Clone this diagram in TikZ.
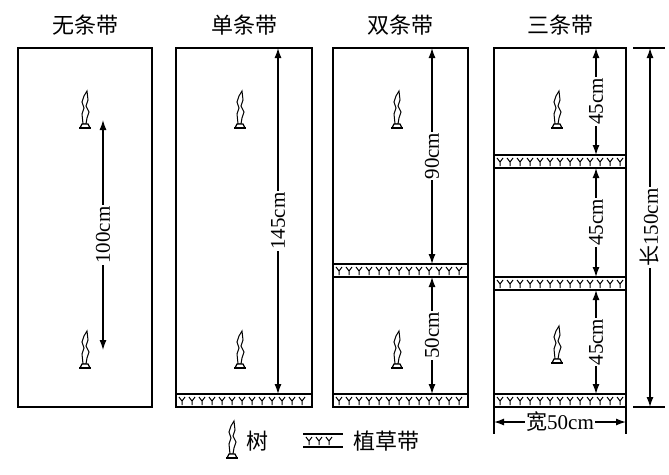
\documentclass[tikz,border=0pt]{standalone}
\usepackage{fontspec}
\setmainfont{Liberation Serif}
\newfontfamily\cjk{Noto Sans CJK SC}
\usetikzlibrary{positioning,arrows.meta}
\tikzset{
  box/.style={line width=1.6pt},
  dim/.style={{Latex[length=10pt,width=7pt]}-{Latex[length=10pt,width=7pt]}, line width=1.3pt},
  dimlabel/.style={fill=white, inner sep=1pt, rotate=90, font=\fontsize{21}{21}\selectfont},
  title/.style={font=\cjk\fontsize{22}{22}\selectfont},
  pics/tree/.style={code={
    \draw[line width=1pt] (-2,14) -- (-3,4) -- (-1,-2) -- (-3,-8) -- (-1,-14) -- (2,-19) -- (3,-10) -- (1,-4) -- (4,2) -- (2,8) -- (1,14) -- cycle;
    \draw[line width=1.2pt, fill=white] (-5,18) -- (-3,14) -- (3,14) -- (5,18) -- cycle;
    \fill (-6,17) rectangle (6,19);
  }},
  pics/grass/.style={code={
    \draw[line width=1.4pt] (0,0) -- (#1,0) (0,13) -- (#1,13);
    \pgfmathtruncatemacro\grassend{#1-6}
    \foreach \i in {6,16,...,\grassend} {
      \draw[line width=1pt] (\i-3,3) -- (\i,7) -- (\i+3,3) (\i,7) -- (\i,11);
    }
  }}
}
\begin{document}
\begin{tikzpicture}[x=1pt,y=-1pt]
\useasboundingbox (0,0) rectangle (669,474);
% titles
\node[title] (t1) at (85,25) {无条带};
\node[title] (t2) at (244,25) {单条带};
\node[title] (t3) at (400,25) {双条带};
\node[title] (t4) at (560,25) {三条带};
% panels
\draw[box] (18,48) rectangle (152,407);
\draw[box] (176,48) rectangle (312,407);
\draw[box] (333,48) rectangle (468,407);
\draw[box] (494,48) rectangle (626,407);
% grass strips
\pic at (176,394) {grass=136};
\pic at (333,394) {grass=135};
\pic at (333,264) {grass=135};
\pic at (494,394) {grass=132};
\pic at (494,277) {grass=132};
\pic at (494,155) {grass=132};
% trees
\foreach \x/\y in {85/110,85/350,240/110,240/350,397/110,397/350,557/110,557/345}
  \pic at (\x,\y) {tree};
% dimensions
\coordinate (a1) at (103,120); \coordinate (b1) at (103,350);
\draw[dim] (a1) -- node[dimlabel] {100cm} (b1);
\coordinate (a2) at (278,48); \coordinate (b2) at (278,394);
\draw[dim] (a2) -- node[dimlabel] {145cm} (b2);
\coordinate (a3) at (432,48); \coordinate (b3) at (432,264);
\draw[dim] (a3) -- node[dimlabel] {90cm} (b3);
\coordinate (c3) at (432,277); \coordinate (d3) at (432,394);
\draw[dim] (c3) -- node[dimlabel] {50cm} (d3);
\coordinate (a4) at (596,48); \coordinate (b4) at (596,155);
\draw[dim] (a4) -- node[dimlabel] {45cm} (b4);
\coordinate (c4) at (596,168); \coordinate (d4) at (596,277);
\draw[dim] (c4) -- node[dimlabel] {45cm} (d4);
\coordinate (e4) at (596,290); \coordinate (f4) at (596,394);
\draw[dim] (e4) -- node[dimlabel] {45cm} (f4);
% overall length
\draw[line width=1.3pt] (633,48) -- (665,48) (633,407) -- (665,407);
\coordinate (lt) at (650,48); \coordinate (lb) at (650,407);
\draw[dim] (lt) -- node[dimlabel] {{\cjk 长}150cm} (lb);
% overall width
\draw[line width=1.3pt] (494,407) -- (494,434) (626,407) -- (626,434);
\coordinate (wl) at (494,422); \coordinate (wr) at (626,422);
\draw[dim] (wl) -- node[fill=white, inner sep=1pt, font=\fontsize{21}{21}\selectfont] {{\cjk 宽}50cm} (wr);
% legend
\pic at (232,440) {tree};
\node[title, right] (lg1) at (243,441) {树};
\pic at (303,434) {grass=40};
\node[title, right] (lg2) at (350,441) {植草带};
\end{tikzpicture}
\end{document}
